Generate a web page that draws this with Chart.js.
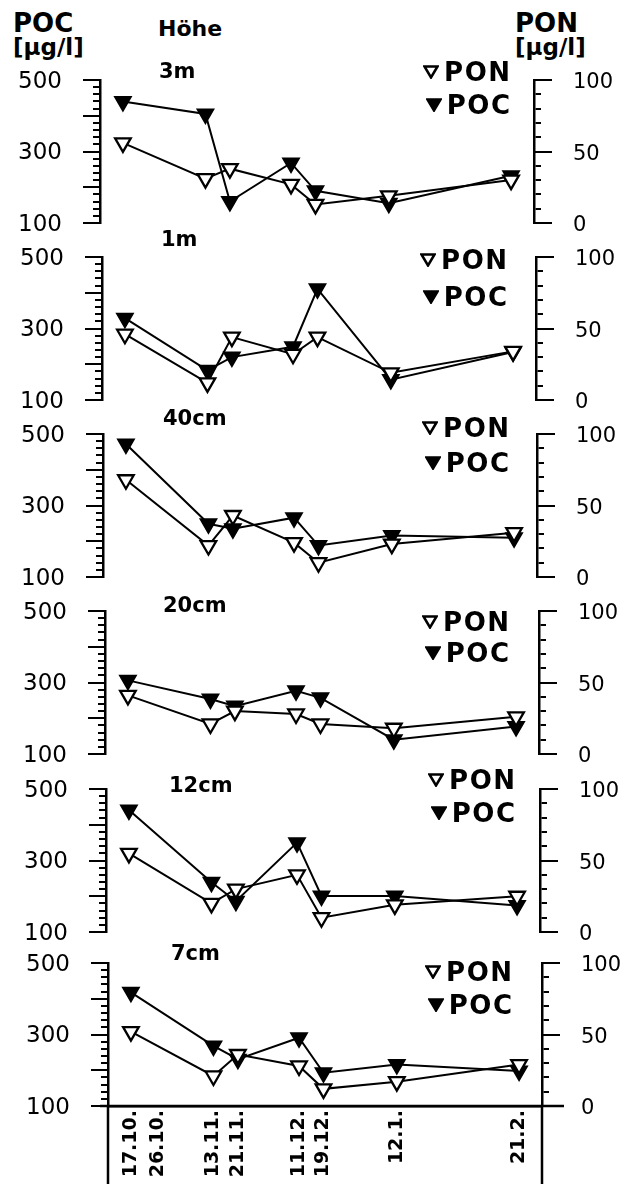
<!DOCTYPE html>
<html><head><meta charset="utf-8">
<script src="https://cdn.jsdelivr.net/npm/chart.js@4"></script>
<style>
html,body{margin:0;padding:0;background:#fff;}
body{width:622px;height:1184px;position:relative;overflow:hidden;font-family:"DejaVu Sans",sans-serif;color:#000;}
canvas{position:absolute;}
.t{position:absolute;font-weight:bold;white-space:nowrap;line-height:1;font-family:"DejaVu Sans",sans-serif;}
.lg{position:absolute;display:flex;align-items:center;gap:5px;font-weight:bold;font-size:26px;line-height:1;letter-spacing:1.5px;font-family:"DejaVu Sans",sans-serif;}
</style></head><body>
<script>
// ---- data ----
const dateLabels = ['17.10.','26.10.','13.11.','21.11.','11.12.','19.12.','12.1.','21.2.'];
const dateDays   = [0, 9, 27, 35, 55, 63, 87, 127];     // days after 17.10.
const sampleDays = [0, 27, 35, 55, 63, 87, 127];        // sampling dates
const heights = ['3m','1m','40cm','20cm','12cm','7cm'];

const poc_3m  = [440, 405, 160, 268, 190, 155, 232];
const pon_3m  = [56, 31, 38, 27, 13, 19, 30];
const poc_1m  = [329, 183, 220, 249, 411, 157, 234];
const pon_1m  = [46, 12, 44, 32, 44, 19, 34];
const poc_40cm = [472, 249, 235, 266, 188, 216, 210];
const pon_40cm = [68, 22, 43, 24, 10, 23, 31];
const poc_20cm = [306, 254, 234, 277, 257, 140, 177];
const pon_20cm = [41, 21, 30, 28, 21, 18, 26];
const poc_12cm = [441, 239, 186, 350, 201, 201, 174];
const pon_12cm = [55, 20, 30, 40, 10, 19, 25];
const poc_7cm  = [418, 268, 231, 291, 193, 216, 198];
const pon_7cm  = [52, 21, 36, 28, 12, 17, 29];

const pocSeries = [poc_3m, poc_1m, poc_40cm, poc_20cm, poc_12cm, poc_7cm];
const ponSeries = [pon_3m, pon_1m, pon_40cm, pon_20cm, pon_12cm, pon_7cm];

const pocTickLabels = [100, 300, 500];
const ponTickLabels = [0, 50, 100];
const pocMajor = [100, 200, 300, 400, 500];
const ponMajor = [0, 50, 100];

// ---- layout ----
const panelTops = [80, 257, 434, 611, 789, 963];
const panelH = 143;
const padT = 50, padB = 50, xAxisH = 78;
const shifts = [0, 1.6, 3.2, 4.8, 6.4, 8];
const labelPos = [[159,63],[161,231],[163,410],[163,597],[169,777],[171,945]];
const legendRight = [510, 507, 509, 509, 515, 512];
const legendPonCap = [62, 250, 418, 612, 770, 962];
const legendPocCap = [95, 287, 453, 643, 803, 995];

function addText(txt, x, baseline, size, extra) {
  const d = document.createElement('div');
  d.className = 't';
  d.textContent = txt;
  d.style.fontSize = size + 'px';
  d.style.left = x + 'px';
  d.style.top = (baseline - 0.846 * size) + 'px';
  if (extra) Object.assign(d.style, extra);
  document.body.appendChild(d);
}
function triSVG(filled) {
  return '<svg width="16" height="14" viewBox="0 0 16 14"><polygon points="1.5,1.5 14.5,1.5 8,12.5" fill="' +
    (filled ? '#000' : '#fff') + '" stroke="#000" stroke-width="2.5" stroke-linejoin="miter"/></svg>';
}
function addLegend(label, filled, rightEdge, capTop) {
  const d = document.createElement('div');
  d.className = 'lg';
  d.innerHTML = triSVG(filled) + '<span>' + label + '</span>';
  d.style.right = (622 - rightEdge - 1.5) + 'px';
  d.style.top = (capTop - 0.117 * 26) + 'px';
  document.body.appendChild(d);
}

// header texts
addText('POC', 13, 32, 26);
addText('[µg/l]', 13, 55, 23);
addText('Höhe', 158, 37, 22);
addText('PON', 515, 32, 26);
addText('[µg/l]', 515, 55, 23);

const majorTicksPlugin = {
  id: 'majorTicks',
  afterDraw(chart) {
    const ctx = chart.ctx, y = chart.scales.y, r = chart.scales.yR;
    ctx.save();
    ctx.strokeStyle = '#000';
    ctx.lineWidth = 2;
    ctx.beginPath();
    pocMajor.forEach(v => { const p = Math.round(y.getPixelForValue(v)); ctx.moveTo(y.right - 17, p); ctx.lineTo(y.right, p); });
    ponMajor.forEach(v => { const p = Math.round(r.getPixelForValue(v)); ctx.moveTo(r.left, p); ctx.lineTo(r.left + 18, p); });
    ctx.stroke();
    if (chart.options.plugins.majorTicks && chart.options.plugins.majorTicks.bottom) {
      const a = chart.chartArea;
      ctx.lineWidth = 2.5;
      ctx.beginPath();
      ctx.moveTo(a.left - 8, a.bottom); ctx.lineTo(a.right + 22, a.bottom);
      ctx.moveTo(a.left, a.bottom); ctx.lineTo(a.left, chart.height);
      ctx.moveTo(a.right, a.bottom); ctx.lineTo(a.right, chart.height);
      ctx.stroke();
    }
    ctx.restore();
  }
};

heights.forEach((h, i) => {
  const isLast = i === heights.length - 1;
  const top = panelTops[i] - padT;
  const hgt = padT + panelH + (isLast ? xAxisH : padB);
  const cv = document.createElement('canvas');
  cv.width = 622; cv.height = hgt;
  cv.style.left = shifts[i] + 'px';
  cv.style.top = top + 'px';
  cv.style.width = '622px'; cv.style.height = hgt + 'px';
  document.body.appendChild(cv);

  addText(h, labelPos[i][0], labelPos[i][1] + 15.3, 21);
  addLegend('PON', false, legendRight[i], legendPonCap[i]);
  addLegend('POC', true, legendRight[i], legendPocCap[i]);

  new Chart(cv, {
    type: 'line',
    data: {
      datasets: [
        {
          label: 'PON', yAxisID: 'yR',
          data: sampleDays.map((d, k) => ({ x: d, y: ponSeries[i][k] })),
          borderColor: '#000', borderWidth: 2, fill: false, tension: 0,
          pointStyle: 'triangle', rotation: 180, pointRadius: 9,
          pointBackgroundColor: '#fff', pointBorderColor: '#000', pointBorderWidth: 2.3,
          clip: false, order: 0
        },
        {
          label: 'POC', yAxisID: 'y',
          data: sampleDays.map((d, k) => ({ x: d, y: pocSeries[i][k] })),
          borderColor: '#000', borderWidth: 2, fill: false, tension: 0,
          pointStyle: 'triangle', rotation: 180, pointRadius: 9,
          pointBackgroundColor: '#000', pointBorderColor: '#000', pointBorderWidth: 2,
          clip: false, order: 1
        }
      ]
    },
    options: {
      responsive: false, animation: false, devicePixelRatio: 1,
      layout: { padding: { top: padT, bottom: isLast ? 0 : padB, left: 0, right: 0 } },
      plugins: { legend: { display: false }, tooltip: { enabled: false }, majorTicks: { bottom: isLast } },
      scales: {
        x: {
          type: 'linear', min: -7.5, max: 134.5, display: isLast,
          afterFit(s) { if (isLast) s.height = xAxisH; },
          afterBuildTicks(s) { s.ticks = dateDays.map(v => ({ value: v })); },
          ticks: {
            autoSkip: false, minRotation: 90, maxRotation: 90, padding: 4, color: '#000',
            font: { family: 'DejaVu Sans', weight: 'bold', size: 19 },
            callback: (v, k) => dateLabels[k]
          },
          grid: { display: false, drawTicks: false },
          border: { display: true, color: '#000', width: 2.5 }
        },
        y: {
          position: 'left', min: 100, max: 500,
          afterFit(s) { s.width = 100; },
          ticks: {
            stepSize: 20, autoSkip: false, padding: 31, labelOffset: 2, color: '#000',
            font: { family: 'DejaVu Sans', size: 23 },
            callback: v => pocTickLabels.includes(v) ? String(v) : ''
          },
          grid: { drawOnChartArea: false, drawTicks: true, tickLength: 7, color: '#000', lineWidth: 2 },
          border: { display: true, color: '#000', width: 2.5 }
        },
        yR: {
          position: 'right', min: 0, max: 100,
          afterFit(s) { s.width = 88; },
          ticks: {
            stepSize: 10, autoSkip: false, padding: 32, labelOffset: 3, color: '#000',
            font: { family: 'DejaVu Sans', size: 21 },
            callback: v => ponTickLabels.includes(v) ? String(v) : ''
          },
          grid: { drawOnChartArea: false, drawTicks: true, tickLength: 7, color: '#000', lineWidth: 2 },
          border: { display: true, color: '#000', width: 2.5 }
        }
      }
    },
    plugins: [majorTicksPlugin]
  });
});
</script>
</body></html>
